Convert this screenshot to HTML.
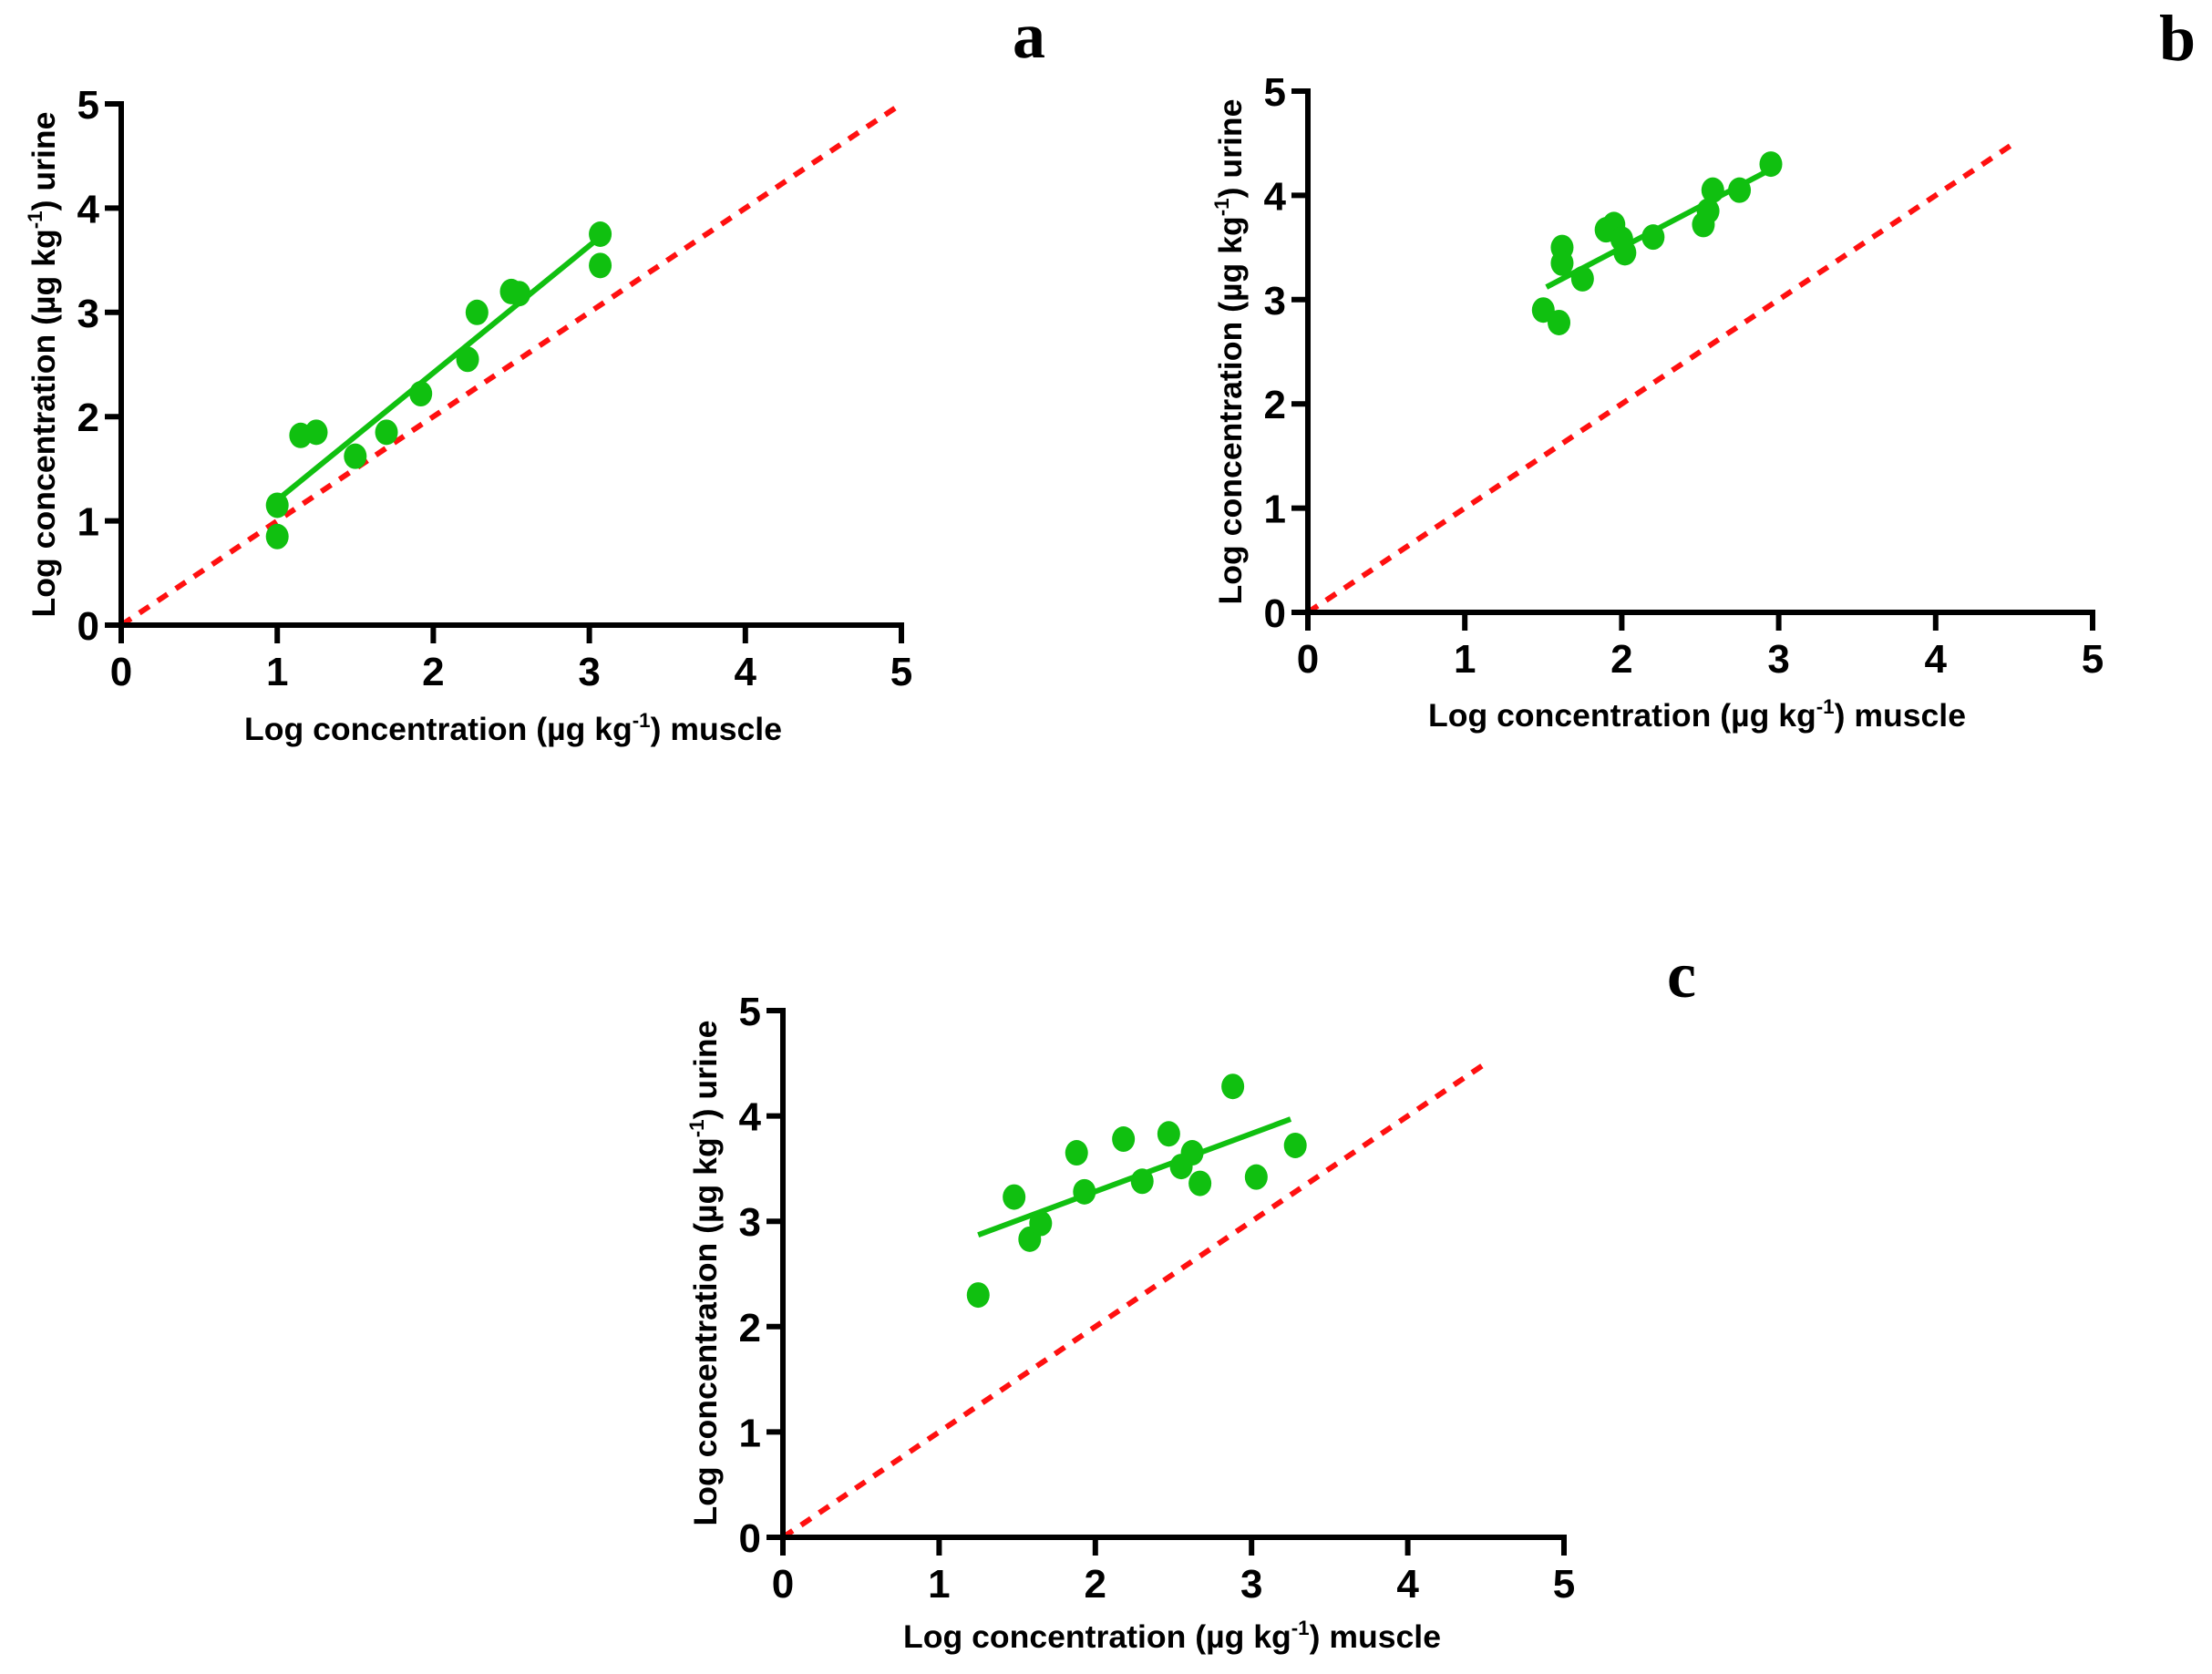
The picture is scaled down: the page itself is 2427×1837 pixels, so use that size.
<!DOCTYPE html>
<html><head><meta charset="utf-8"><style>
html,body{margin:0;padding:0;background:#fff;}
svg{display:block;}
text{font-family:"Liberation Sans",sans-serif;font-weight:bold;fill:#000;}
.panel{font-family:"Liberation Serif",serif;font-weight:bold;font-size:72px;}
</style></head><body>
<svg id="fig" width="2427" height="1837" viewBox="0 0 2427 1837"></svg>
<script>
const ticks = [0,1,2,3,4,5];
const tickLabels = ["0","1","2","3","4","5"];
const aX = [1.0,1.0,1.15,1.25,1.5,1.7,1.92,2.22,2.28,2.5,2.55,3.07,3.07];
const aY = [1.15,0.85,1.82,1.85,1.62,1.85,2.22,2.55,3.0,3.2,3.18,3.75,3.45];
const aFit = [[1.0,1.2],[3.05,3.7]];
const aDiag = [[0,0],[5,5]];
const bX = [1.5,1.6,1.62,1.62,1.75,1.9,1.95,2.0,2.02,2.2,2.52,2.55,2.58,2.75,2.95];
const bY = [2.9,2.78,3.5,3.35,3.2,3.67,3.72,3.58,3.45,3.6,3.72,3.85,4.05,4.05,4.3];
const bFit = [[1.52,3.12],[2.95,4.25]];
const bDiag = [[0,0],[4.5,4.5]];
const cX = [1.25,1.48,1.58,1.65,1.88,1.93,2.18,2.3,2.47,2.55,2.62,2.67,2.88,3.03,3.28];
const cY = [2.3,3.23,2.83,2.98,3.65,3.28,3.78,3.38,3.83,3.52,3.65,3.36,4.28,3.42,3.72];
const cFit = [[1.25,2.87],[3.25,3.97]];
const cDiag = [[0,0],[4.5,4.5]];

const NS="http://www.w3.org/2000/svg";
const svg=document.getElementById('fig');
function mk(tag,attrs,parent){const e=document.createElementNS(NS,tag);for(const k in attrs)e.setAttribute(k,attrs[k]);(parent||svg).appendChild(e);return e;}

const panels=[
 {id:'a',x0:133,x5:989,y0:686,y5:114,xs:aX,ys:aY,fit:aFit,diag:aDiag,lab:[1129,63],yt:48,xt:[563,812],ytc:400},
 {id:'b',x0:1435,x5:2296,y0:672,y5:100,xs:bX,ys:bY,fit:bFit,diag:bDiag,lab:[2389,66],yt:1350,xt:[1862,797],ytc:386},
 {id:'c',x0:859,x5:1716,y0:1687,y5:1109,xs:cX,ys:cY,fit:cFit,diag:cDiag,lab:[1845,1094],yt:774,xt:[1286,1808],ytc:1397}
];
panels.forEach(p=>{
 const sx=v=>p.x0+(p.x5-p.x0)*v/5;
 const sy=v=>p.y0+(p.y5-p.y0)*v/5;
 const g=mk('g',{});
 
 
 // diagonal
 const d=mk('line',{x1:sx(p.diag[0][0]),y1:sy(p.diag[0][1]),x2:sx(p.diag[1][0]),y2:sy(p.diag[1][1]),stroke:'#ff1010','stroke-width':6,'stroke-dasharray':'13 11'},g);
 
 
 // fit
 const f=mk('line',{x1:sx(p.fit[0][0]),y1:sy(p.fit[0][1]),x2:sx(p.fit[1][0]),y2:sy(p.fit[1][1]),stroke:'#10c010','stroke-width':6},g);
 
 
 // points
 p.xs.forEach((xv,i)=>{
  const c=mk('ellipse',{cx:sx(xv),cy:sy(p.ys[i]),rx:12.5,ry:14,fill:'#10c010'},g);
  
  
 });
 // axes
 const ya=mk('line',{x1:p.x0,y1:p.y5-3,x2:p.x0,y2:p.y0+3,stroke:'#000','stroke-width':6},g);
 
 
 const xa=mk('line',{x1:p.x0-3,y1:p.y0,x2:p.x5+3,y2:p.y0,stroke:'#000','stroke-width':6},g);
 
 
 ticks.forEach((t,i)=>{
  mk('line',{x1:sx(t),y1:p.y0,x2:sx(t),y2:p.y0+20,stroke:'#000','stroke-width':6},g);
  mk('line',{x1:p.x0-18,y1:sy(t),x2:p.x0,y2:sy(t),stroke:'#000','stroke-width':6},g);
  const tx=mk('text',{x:sx(t),y:p.y0+66,'text-anchor':'middle','font-size':44},g);
  tx.textContent=tickLabels[i];
  
  
  const ty=mk('text',{x:p.x0-24,y:sy(t)+16,'text-anchor':'end','font-size':44},g);
  ty.textContent=tickLabels[i];
  
  
 });
 const xt=mk('text',{x:p.xt[0],y:p.xt[1],'text-anchor':'middle','font-size':35,textLength:590,lengthAdjust:'spacingAndGlyphs'},g);
 xt.innerHTML='Log concentration (µg kg<tspan dy="-14" font-size="22">-1</tspan><tspan dy="14">) muscle</tspan>';
 
 
 const yt=mk('text',{x:0,y:0,'text-anchor':'middle','font-size':35,textLength:555,lengthAdjust:'spacingAndGlyphs',transform:`translate(${p.yt+12},${p.ytc}) rotate(-90)`},g);
 yt.innerHTML='Log concentration (µg kg<tspan dy="-14" font-size="22">-1</tspan><tspan dy="14">) urine</tspan>';
 
 
 const pl=mk('text',{x:p.lab[0],y:p.lab[1],'text-anchor':'middle','class':'panel'},g);
 pl.textContent=p.id;
 
 
});
</script>
</body></html>
